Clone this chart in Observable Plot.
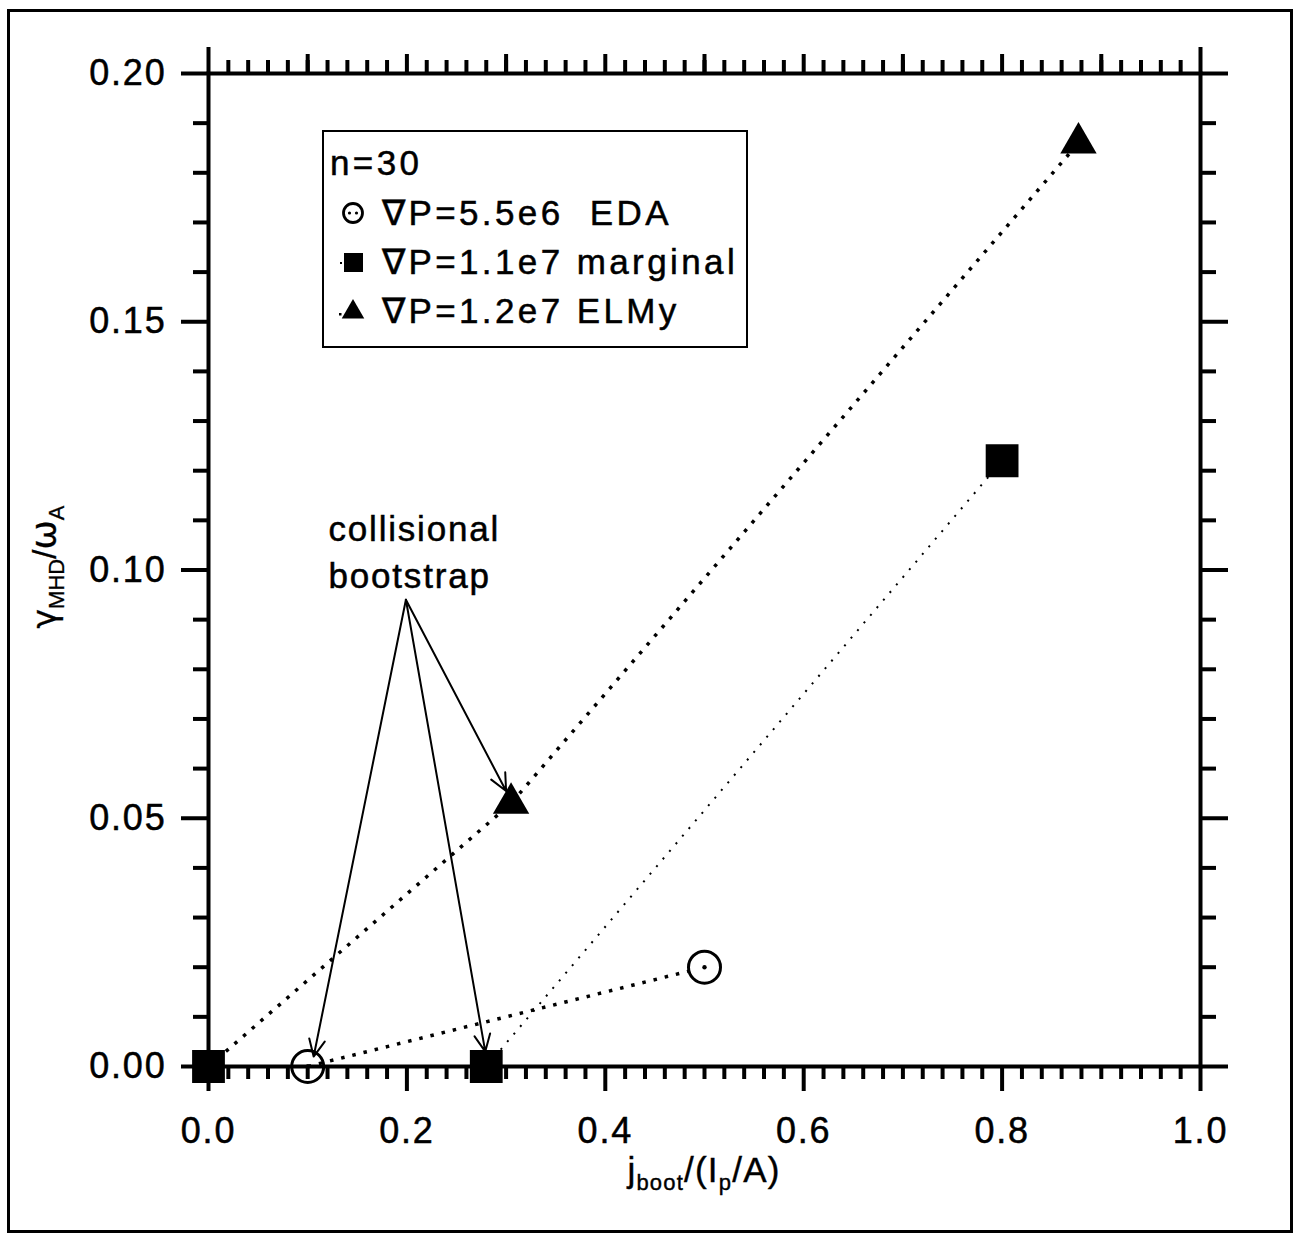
<!DOCTYPE html>
<html>
<head>
<meta charset="utf-8">
<script src="https://cdn.jsdelivr.net/npm/d3@7"></script>
<script src="https://cdn.jsdelivr.net/npm/@observablehq/plot@0.6"></script>
<style>
  body { margin: 0; background: #fff; font-family: "Liberation Sans", Arial, sans-serif; }
  #wrap { position: relative; width: 1300px; height: 1241px; overflow: hidden; }
  #border { position: absolute; left: 7px; top: 9px; width: 1286px; height: 1224px; box-sizing: border-box; border: 3px solid #000; pointer-events: none; }
  #legend { position: absolute; left: 322px; top: 130px; width: 426px; height: 218px; box-sizing: border-box; border: 2px solid #000; background: #fff; }
  .lrow { position: absolute; left: 0; height: 40px; display: flex; align-items: center; font-size: 35px; letter-spacing: 3.4px; white-space: pre; color: #000; -webkit-text-stroke: 0.5px #000; }
  .lrow svg { flex: none; }
  #xlabel { position: absolute; left: 504px; width: 400px; top: 1150px; text-align: center; font-size: 35px; letter-spacing: 1.2px; white-space: nowrap; -webkit-text-stroke: 0.4px #000; }
  #ylabel { position: absolute; left: -156px; top: 547px; width: 400px; text-align: center; font-size: 33px; white-space: nowrap; transform: rotate(-90deg); transform-origin: 200px 20px; -webkit-text-stroke: 0.3px #000; }
  sub { font-size: 22px; vertical-align: -8px; line-height: 0; }
  svg text { stroke: #000; stroke-width: 0.5px; }
</style>
</head>
<body>
<div id="wrap">
  <div id="chart"></div>
  <div id="border"></div>
  <div id="legend"></div>
  <div id="xlabel"></div>
  <div id="ylabel"></div>
</div>
<script>
// ---------------- data ----------------
const legendTitle = "n=30";
const seriesNames = ["\u2207P=5.5e6  EDA", "\u2207P=1.1e7 marginal", "\u2207P=1.2e7 ELMy"];
const seriesSymbols = ["circle", "square", "triangle"];

const edaX = [0.1, 0.5];
const edaY = [0.0, 0.020];
const marginalX = [0.0, 0.28, 0.80];
const marginalY = [0.0, 0.0, 0.122];
const elmyX = [0.0, 0.305, 0.877];
const elmyY = [0.0, 0.053, 0.186];

const xTickValues = [0.0, 0.2, 0.4, 0.6, 0.8, 1.0];
const yTickValues = [0.00, 0.05, 0.10, 0.15, 0.20];

const annotationText = "collisional\nbootstrap";
const annotationX = [0.121];
const annotationY = [0.1125];
const arrowFromX = 0.199;
const arrowFromY = 0.094;
const arrowToX = [0.106, 0.279, 0.300];
const arrowToY = [0.002, 0.003, 0.0555];

// ---------------- tables ----------------
const eda = edaX.map((x, i) => ({x, y: edaY[i]}));
const marginal = marginalX.map((x, i) => ({x, y: marginalY[i]}));
const elmy = elmyX.map((x, i) => ({x, y: elmyY[i]}));
const arrows = arrowToX.map((x, i) => ({x1: arrowFromX, y1: arrowFromY, x2: x, y2: arrowToY[i]}));
const annotation = annotationX.map((x, i) => ({x, y: annotationY[i], t: annotationText}));

const xMinor = d3.range(0, 1.0001, 0.02).filter(v => Math.abs(v * 5 - Math.round(v * 5)) > 1e-6);
const xTopMajor = d3.range(0.1, 0.95, 0.1);
const yMinor = d3.range(0, 0.2001, 0.01).filter(v => Math.abs(v * 20 - Math.round(v * 20)) > 1e-6);

const FONT = "Liberation Sans, Arial, sans-serif";
const noText = () => "";

const plot = Plot.plot({
  width: 1300,
  height: 1241,
  marginLeft: 208,
  marginRight: 100,
  marginTop: 73,
  marginBottom: 175,
  x: {domain: [0, 1]},
  y: {domain: [0, 0.2]},
  style: {fontFamily: FONT, color: "#000", background: "transparent", overflow: "visible", letterSpacing: "1.8px"},
  marks: [
    // bottom axis
    Plot.axisX({anchor: "bottom", ticks: xTickValues, tickSize: 25, tickPadding: 26, tickFormat: d => d.toFixed(1), strokeWidth: 4, fontSize: 36, label: null}),
    Plot.axisX({anchor: "bottom", ticks: xMinor, tickSize: 13, tickFormat: noText, strokeWidth: 4, label: null}),
    // top axis
    Plot.axisX({anchor: "top", ticks: xTopMajor, tickSize: 20, tickFormat: noText, strokeWidth: 4, label: null}),
    Plot.axisX({anchor: "top", ticks: [0, 1], tickSize: 27, tickFormat: noText, strokeWidth: 4, label: null}),
    Plot.axisX({anchor: "top", ticks: xMinor, tickSize: 14, tickFormat: noText, strokeWidth: 4, label: null}),
    // left axis
    Plot.axisY({anchor: "left", ticks: yTickValues, tickSize: 27, tickPadding: 15, tickFormat: d => d.toFixed(2), strokeWidth: 4, fontSize: 36, label: null}),
    Plot.axisY({anchor: "left", ticks: yMinor, tickSize: 15, tickFormat: noText, strokeWidth: 4, label: null}),
    // right axis
    Plot.axisY({anchor: "right", ticks: yTickValues, tickSize: 27, tickFormat: noText, strokeWidth: 4, label: null}),
    Plot.axisY({anchor: "right", ticks: yMinor, tickSize: 15, tickFormat: noText, strokeWidth: 4, label: null}),
    Plot.frame({stroke: "#000", strokeWidth: 4}),

    // series lines
    Plot.line(elmy, {x: "x", y: "y", stroke: "#000", strokeWidth: 3.5, strokeDasharray: "3.5 8", strokeLinecap: "butt"}),
    Plot.line(eda, {x: "x", y: "y", stroke: "#000", strokeWidth: 3.5, strokeDasharray: "3.5 8", strokeLinecap: "butt"}),
    Plot.line(marginal, {x: "x", y: "y", stroke: "#000", strokeWidth: 2, strokeDasharray: "2 8", strokeLinecap: "butt"}),

    // annotation
    Plot.arrow(arrows, {x1: "x1", y1: "y1", x2: "x2", y2: "y2", stroke: "#000", strokeWidth: 2, headLength: 14, headAngle: 50, insetEnd: 0}),
    Plot.text(annotation, {x: "x", y: "y", text: "t", textAnchor: "start", lineAnchor: "top", fontSize: 35, lineHeight: 1.34, fill: "#000"}),

    // markers
    Plot.dot(eda, {x: "x", y: "y", r: 16, stroke: "#000", strokeWidth: 3, fill: d => d.y === 0 ? "none" : "#fff"}),
    Plot.dot(eda, {x: "x", y: "y", r: 2.2, fill: "#000", stroke: "none"}),
    Plot.dot(marginal, {x: "x", y: "y", symbol: "square", r: 18.5, fill: "#000", stroke: "none"}),
    Plot.dot(elmy.slice(1), {x: "x", y: "y", symbol: "triangle", r: 13.5, fill: "#000", stroke: "none"})
  ]
});
document.getElementById("chart").appendChild(plot);

// ---------------- legend ----------------
const legend = document.getElementById("legend");
function addRow(topPx, symbol, text) {
  const row = document.createElement("div");
  row.className = "lrow";
  row.style.top = topPx + "px";
  const s = d3.create("svg").attr("width", symbol ? 58 : 6).attr("height", 40);
  if (symbol === "circle") {
    s.append("circle").attr("cx", 29).attr("cy", 20).attr("r", 9.5).attr("fill", "#fff").attr("stroke", "#000").attr("stroke-width", 2.8);
    s.append("circle").attr("cx", 25.5).attr("cy", 20).attr("r", 1.6).attr("fill", "#000");
    s.append("circle").attr("cx", 32.5).attr("cy", 20).attr("r", 1.6).attr("fill", "#000");
  } else if (symbol === "square") {
    s.append("rect").attr("x", 20).attr("y", 11).attr("width", 19).attr("height", 19).attr("fill", "#000");
    s.append("rect").attr("x", 16).attr("y", 20).attr("width", 2).attr("height", 2).attr("fill", "#000");
  } else if (symbol === "triangle") {
    s.append("path").attr("d", d3.symbol(d3.symbolTriangle, 220)()).attr("transform", "translate(29,21)").attr("fill", "#000");
    s.append("rect").attr("x", 15).attr("y", 22).attr("width", 2.5).attr("height", 2.5).attr("fill", "#000");
  }
  row.appendChild(s.node());
  const span = document.createElement("span");
  span.textContent = text;
  row.appendChild(span);
  legend.appendChild(row);
}
addRow(11, null, legendTitle);
seriesNames.forEach((name, i) => addRow(61 + i * 49, seriesSymbols[i], name));

// ---------------- axis titles ----------------
document.getElementById("xlabel").innerHTML = "j<sub>boot</sub>/(I<sub>p</sub>/A)";
document.getElementById("ylabel").innerHTML = "<span style=\"font-family:'DejaVu Sans'\">\u03b3</span><sub>MHD</sub>/<span style=\"font-family:'DejaVu Sans';font-size:35px\">\u03c9</span><sub>A</sub>";
</script>
</body>
</html>
